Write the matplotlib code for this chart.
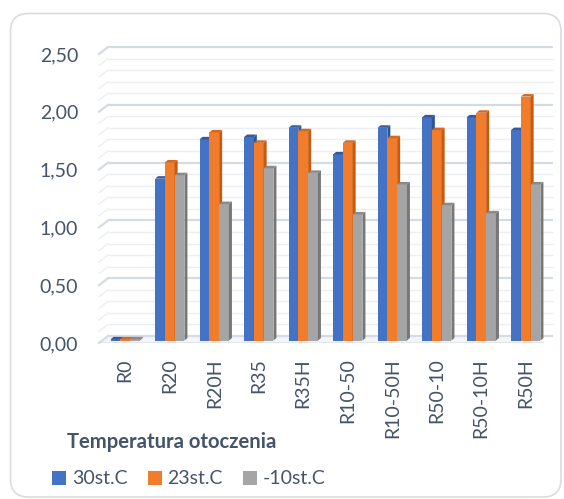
import numpy as np
import matplotlib
matplotlib.use("Agg")
from matplotlib import pyplot as plt
from matplotlib.patches import Polygon, Patch, FancyBboxPatch

plt.rcParams['font.family'] = ['Lato', 'DejaVu Sans']

categories = ['R0', 'R20', 'R20H', 'R35', 'R35H', 'R10-50', 'R10-50H', 'R50-10', 'R50-10H', 'R50H']
t30 = [0.01, 1.40, 1.74, 1.76, 1.84, 1.61, 1.84, 1.93, 1.93, 1.82]
t23 = [0.01, 1.54, 1.80, 1.71, 1.81, 1.71, 1.75, 1.82, 1.97, 2.11]
tm10 = [0.01, 1.43, 1.18, 1.49, 1.45, 1.09, 1.35, 1.17, 1.10, 1.35]
series_names = ['30st.C', '23st.C', '-10st.C']
legend_title = 'Temperatura otoczenia'

# front, side, top shades for each series
shades = [('#4472C4', '#2F5597', '#36599E'),
          ('#F07C2C', '#C55A11', '#D06A22'),
          ('#A5A5A5', '#777777', '#8A8A8A')]
text_color = '#44546A'

W, H, DPI = 564, 499, 100
fig = plt.figure(figsize=(W / DPI, H / DPI), dpi=DPI)

# plot area in pixels (front plane)
left, right, bottom, top = 99, 544, 343, 54
ax = fig.add_axes([left / W, (H - bottom) / H, (right - left) / W, (bottom - top) / H])
ax.set_xlim(-0.5, len(categories) - 0.5)
ax.set_ylim(0, 2.5)
ax.patch.set_alpha(0)
for s in ax.spines.values():
    s.set_visible(False)

px_x = (right - left) / len(categories)   # pixels per category
px_y = (bottom - top) / 2.5               # pixels per unit

# depth offsets (pixels -> data units)
wall_dx, wall_dy = 9 / px_x, 7 / px_y
bar_dx, bar_dy = 4 / px_x, 2.5 / px_y
dep_dx, dep_dy = 3 / px_x, 2.5 / px_y

x0, x1 = -0.5, len(categories) - 0.5

# floor slab
floor = Polygon([(x0, 0), (x1, 0), (x1 + wall_dx, wall_dy), (x0 + wall_dx, wall_dy)],
                closed=True, facecolor='#F3F5F8', edgecolor='#DCE0E8', lw=1, zorder=1)
ax.add_patch(floor)

# gridlines on the back wall with a slanted side-wall stub
for v in np.round(np.arange(0, 2.51, 0.1), 2):
    major = abs(v * 2 - round(v * 2)) < 1e-6
    c = '#D5DBE4' if major else '#ECEFF3'
    lw = 1.6 if major else 1.0
    ax.plot([x0 + wall_dx, x1 + wall_dx], [v + wall_dy, v + wall_dy], color=c, lw=lw,
            zorder=1.5, clip_on=False, solid_capstyle='butt')
    ax.plot([x0, x0 + wall_dx], [v, v + wall_dy], color=c, lw=lw, zorder=1.5, clip_on=False)

x = np.arange(len(categories))
bw = 0.22
z = 3
for i, vals in enumerate([t30, t23, tm10]):
    front, side, topc = shades[i]
    xs = x + (i - 1) * bw + bar_dx
    for xc, v in zip(xs, vals):
        a, b = xc - bw / 2, xc + bw / 2
        ax.bar(xc, v, width=bw, bottom=bar_dy, color=front, zorder=z, clip_on=False)
        ax.add_patch(Polygon([(b, bar_dy), (b, v + bar_dy), (b + dep_dx, v + bar_dy + dep_dy),
                              (b + dep_dx, bar_dy + dep_dy)], closed=True,
                             facecolor=side, edgecolor='none', zorder=z, clip_on=False))
        ax.add_patch(Polygon([(a, v + bar_dy), (b, v + bar_dy), (b + dep_dx, v + bar_dy + dep_dy),
                              (a + dep_dx, v + bar_dy + dep_dy)], closed=True,
                             facecolor=topc, edgecolor='none', zorder=z, clip_on=False))
    z += 1

ax.set_yticks(np.arange(0, 2.51, 0.5))
ax.set_yticklabels([f"{v:.2f}".replace('.', ',') for v in np.arange(0, 2.51, 0.5)])
ax.set_xticks(x + bar_dx)
ax.set_xticklabels(categories, rotation=90, va='top', ha='center')
ax.tick_params(axis='y', length=0, pad=15, labelsize=14, labelcolor=text_color)
ax.tick_params(axis='x', length=0, pad=11, labelsize=14, labelcolor=text_color)

# legend
fig.text(67 / W, (H - 442) / H, legend_title, fontsize=14.6, fontweight='bold',
         color=text_color, ha='left', va='center')
handles = [Patch(facecolor=shades[i][0], edgecolor='none') for i in range(3)]
fig.legend(handles, series_names, ncol=3, loc='center left',
           bbox_to_anchor=(52 / W, (H - 479) / H), frameon=False, fontsize=14,
           handlelength=0.72, handleheight=0.72, handletextpad=0.3,
           columnspacing=1.05, borderpad=0, borderaxespad=0, labelcolor=text_color)

# rounded chart border
border = FancyBboxPatch((10.5 / DPI, 2 / DPI), (561 - 10.5) / DPI, (485.5 - 2) / DPI,
                        boxstyle='round,pad=0,rounding_size=0.18',
                        transform=fig.dpi_scale_trans, facecolor='none',
                        edgecolor='#D9DCE1', lw=1.2)
fig.patches.append(border)

fig.savefig('out.png', dpi=DPI)
